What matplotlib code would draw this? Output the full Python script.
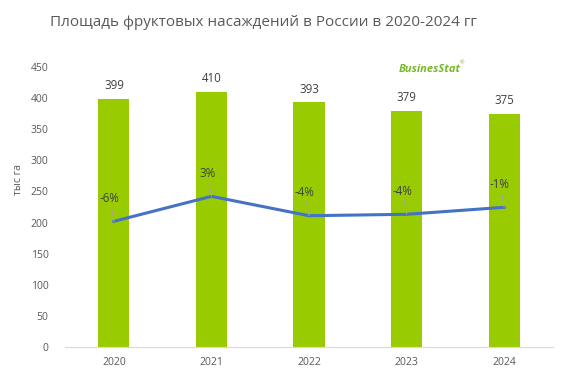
import matplotlib
matplotlib.use('Agg')
import matplotlib.pyplot as plt

# Data
years = ['2020', '2021', '2022', '2023', '2024']
area = [399, 410, 393, 379, 375]
growth = [-6.1, 2.8, -4.1, -3.6, -1.1]

bar_color = '#99CC00'
line_color = '#4472C4'
text_color = '#595959'

plt.rcParams['font.family'] = ['Open Sans', 'DejaVu Sans']

fig = plt.figure(figsize=(5.66, 3.83), dpi=100)
ax = fig.add_axes([0.115, 0.094, 0.862, 0.731])

x = range(len(years))
ax.bar(x, area, width=0.32, color=bar_color, zorder=2)
for i, v in enumerate(area):
    ax.annotate(str(v), (i, v), xytext=(0, 5), textcoords='offset points',
                ha='center', va='bottom', fontsize=8.3, color='#404040')

ax.set_xlim(-0.5, len(years) - 0.5)
ax.set_ylim(0, 450)
ax.set_yticks(range(0, 451, 50))
ax.set_xticks(list(x))
ax.set_xticklabels(years)
ax.tick_params(axis='both', length=0, labelsize=7.5, labelcolor=text_color)
ax.tick_params(axis='y', pad=12)
ax.tick_params(axis='x', pad=7)
for s in ['top', 'right', 'left']:
    ax.spines[s].set_visible(False)
ax.spines['bottom'].set_color('#D9D9D9')
ax.set_ylabel('тыс га', fontsize=7.5, color=text_color)
ax.yaxis.set_label_coords(-0.085, 0.6)

# growth line on a hidden secondary axis
ax2 = ax.twinx()
ax2.set_ylim(-50.9, 48.9)
ax2.axis('off')
ax2.plot(list(x), growth, color=line_color, linewidth=2.2, zorder=3)
for i, g in enumerate(growth):
    ax2.annotate(f'{round(g):d}%', (i, g), xytext=(-3, 12), textcoords='offset points',
                 ha='center', va='bottom', fontsize=8.3, color='#404040',
                 arrowprops=dict(arrowstyle='-', color='#A6A6A6', lw=0.7,
                                 shrinkA=0, shrinkB=0))

fig.text(263 / 566, 1 - 22 / 383, 'Площадь фруктовых насаждений в России в 2020-2024 гг',
         ha='center', va='center', fontsize=11, color=text_color)
fig.text(399 / 566, 1 - 69 / 383, 'BusinesStat', ha='left', va='center',
         fontsize=8, color='#7AB829', style='italic', fontweight='bold')
fig.text(460 / 566, 1 - 63 / 383, '®', ha='left', va='center',
         fontsize=4, color='#7AB829')

fig.savefig('out.png', dpi=100)
